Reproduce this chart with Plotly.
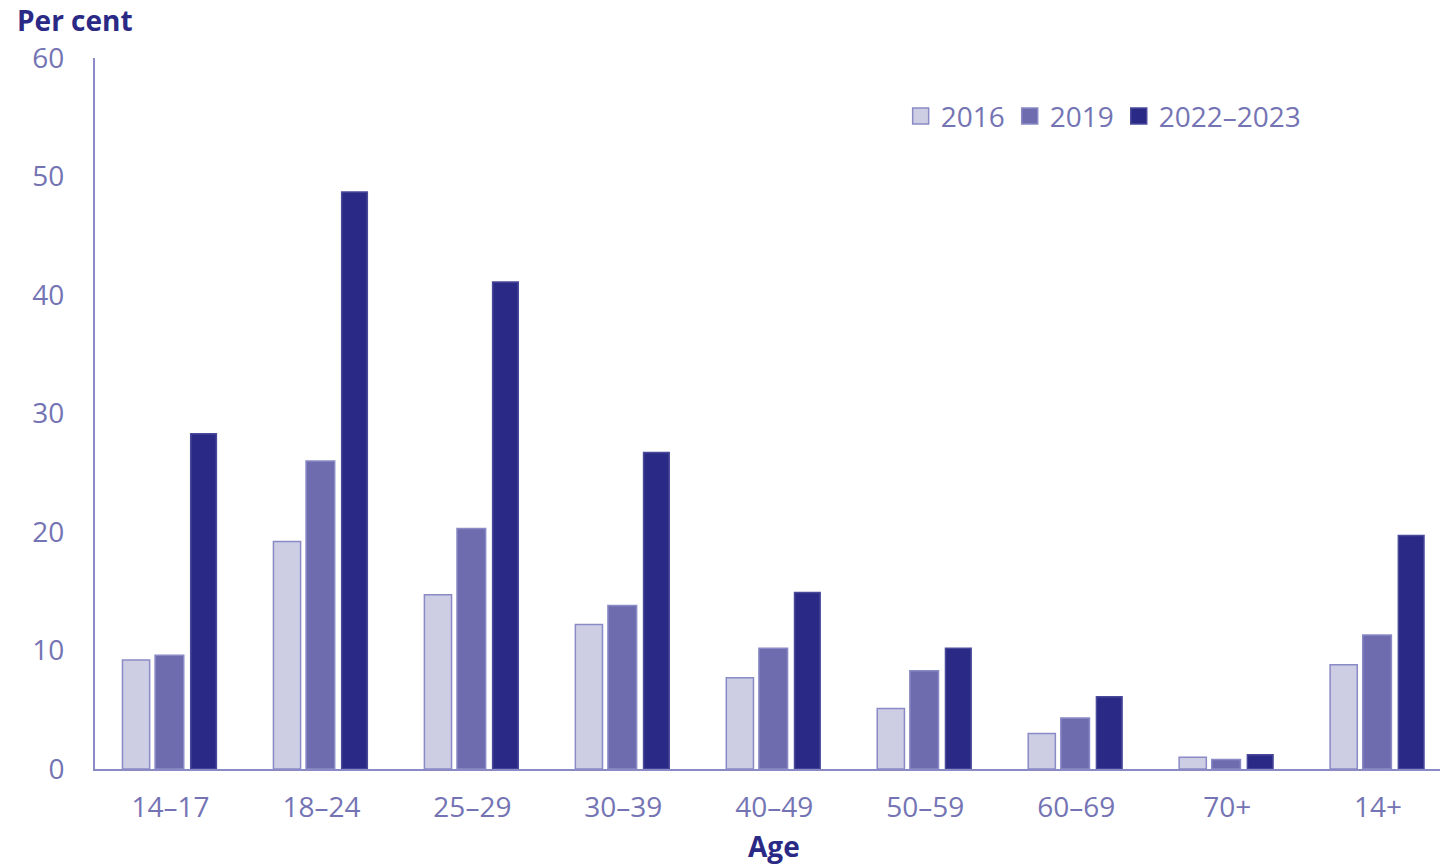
import plotly.graph_objects as go

categories = ["14–17", "18–24", "25–29", "30–39", "40–49", "50–59", "60–69", "70+", "14+"]
v2016 = [9.2, 19.2, 14.7, 12.2, 7.7, 5.1, 3.0, 1.0, 8.8]
v2019 = [9.6, 26.0, 20.3, 13.8, 10.2, 8.3, 4.3, 0.8, 11.3]
v2022 = [28.3, 48.7, 41.1, 26.7, 14.9, 10.2, 6.1, 1.2, 19.7]
series_names = ["2016", "2019", "2022–2023"]
y_ticks = [0, 10, 20, 30, 40, 50, 60]

FONT = "Open Sans"
TICK_COL = "#7474B4"
NAVY = "#2A2A86"
EDGE = "#8A8AC6"

fig = go.Figure()
styles = [
    dict(color="#CDCEE4", line=EDGE, offset=-0.318, width=0.18),
    dict(color="#6E6CAE", line=EDGE, offset=-0.102, width=0.19),
    dict(color=NAVY, line="#4A4A9A", offset=0.134, width=0.17),
]
for name, vals, st in zip(series_names, [v2016, v2019, v2022], styles):
    fig.add_trace(go.Bar(
        x=categories, y=vals, name=name, showlegend=False,
        marker=dict(color=st["color"], line=dict(color=st["line"], width=1.5)),
        offset=st["offset"], width=st["width"],
    ))
# legend entries with larger square swatches
for name, st in zip(series_names, styles):
    fig.add_trace(go.Scatter(
        x=[None], y=[None], mode="markers", name=name, showlegend=True,
        marker=dict(symbol="square", size=16, color=st["color"],
                    line=dict(color=st["line"], width=1.5)),
    ))

fig.update_layout(
    width=1440, height=865,
    margin=dict(l=95, r=0, t=58, b=96),
    paper_bgcolor="white", plot_bgcolor="white",
    font=dict(family=FONT, size=28, color=TICK_COL),
    barmode="group",
    showlegend=True,
    legend=dict(orientation="h", x=0.599, y=0.918, xanchor="left", yanchor="middle",
                font=dict(size=28, color=TICK_COL), itemwidth=30,
                traceorder="normal", bgcolor="rgba(0,0,0,0)"),
    xaxis=dict(range=[-0.5, 8.41], showline=True, linecolor=EDGE, linewidth=2,
               showgrid=False, ticks="", tickfont=dict(size=28, color=TICK_COL),
               zeroline=False, ticklabelstandoff=12),
    yaxis=dict(range=[0, 60], tickvals=y_ticks, showline=True, linecolor=EDGE, linewidth=2,
               showgrid=False, ticks="", zeroline=False, ticklabelstandoff=23,
               tickfont=dict(size=28, color=TICK_COL)),
    annotations=[
        dict(text="<b>Per cent</b>", xref="paper", yref="paper", x=-0.0587, y=1.054,
             xanchor="left", yanchor="middle", showarrow=False, borderpad=0,
             font=dict(family=FONT, size=28, color=NAVY)),
        dict(text="<b>Age</b>", xref="paper", yref="paper", x=0.505, y=-0.1083,
             xanchor="center", yanchor="middle", showarrow=False, borderpad=0,
             font=dict(family=FONT, size=28, color=NAVY)),
    ],
)

fig.write_html("out.html", config={"displayModeBar": False},
               post_script="document.body.style.margin='0';")
